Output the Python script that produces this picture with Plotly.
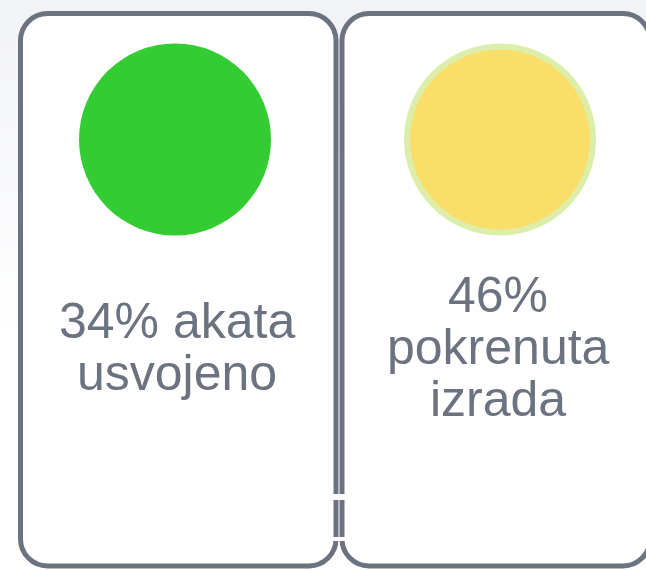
import plotly.graph_objects as go

# ---- data ----
percentages = [34, 46]
label_lines = [["akata", "usvojeno"], ["pokrenuta", "izrada"]]
fill_colors = ["#33CC33", "#F9DF6A"]
ring_colors = ["#33CC33", "#DDEEAA"]

W, H = 646, 570
border_color = "#6B7280"
text_color = "#6B7280"
font_family = "Liberation Sans, Arial, sans-serif"
font_size = 50

fig = go.Figure()

shapes = []

# background gradient (top light gray fading to white)
n = 35
for i in range(n):
    t = i / (n - 1)
    r = int(round(242 + (255 - 242) * t))
    g = int(round(243 + (255 - 243) * t))
    b = int(round(247 + (255 - 247) * t))
    shapes.append(dict(type="rect", xref="x", yref="y", x0=0, x1=W,
                       y0=i * 10, y1=i * 10 + 10, line=dict(width=0),
                       fillcolor=f"rgb({r},{g},{b})", layer="below"))


def rounded_rect(x0, y0, x1, y1, r):
    k = 0.5523 * r
    return (f"M {x0+r},{y0} L {x1-r},{y0} "
            f"C {x1-r+k},{y0} {x1},{y0+r-k} {x1},{y0+r} "
            f"L {x1},{y1-r} "
            f"C {x1},{y1-r+k} {x1-r+k},{y1} {x1-r},{y1} "
            f"L {x0+r},{y1} "
            f"C {x0+r-k},{y1} {x0},{y1-r+k} {x0},{y1-r} "
            f"L {x0},{y0+r} "
            f"C {x0},{y0+r-k} {x0+r-k},{y0} {x0+r},{y0} Z")


boxes = [(20.5, 13.5, 336, 566), (342, 13.5, 650, 566)]
for (x0, y0, x1, y1) in boxes:
    shapes.append(dict(type="path", xref="x", yref="y",
                       path=rounded_rect(x0, y0, x1, y1, 27),
                       fillcolor="white",
                       line=dict(color=border_color, width=5)))

# small white gaps seen between the cards
for (gy0, gy1) in [(494, 500), (537, 541)]:
    shapes.append(dict(type="rect", xref="x", yref="y", x0=331, x1=347,
                       y0=gy0, y1=gy1, line=dict(width=0), fillcolor="white"))

# circles
centers_x = [175, 500]
cy, R = 139.5, 96
ring_w = [0, 6]
for i in range(len(percentages)):
    cx = centers_x[i]
    rw = ring_w[i]
    rr = R - rw / 2
    shapes.append(dict(type="circle", xref="x", yref="y",
                       x0=cx - rr, x1=cx + rr, y0=cy - rr, y1=cy + rr,
                       fillcolor=fill_colors[i],
                       line=dict(color=ring_colors[i], width=rw if rw else 0)))

# text lines
annotations = []
text_cx = [177, 498]
line_gap = 52
mid_baseline = 364
for i, p in enumerate(percentages):
    if i == 0:
        lines = [f"{p}% {label_lines[i][0]}"] + label_lines[i][1:]
    else:
        lines = [f"{p}%"] + label_lines[i]
    nlines = len(lines)
    for j, ln in enumerate(lines):
        baseline = mid_baseline + (j - (nlines - 1) / 2) * line_gap
        annotations.append(dict(x=text_cx[i], y=baseline - 0.3465 * font_size,
                                xref="x", yref="y", text=ln, showarrow=False,
                                xanchor="center", yanchor="middle",
                                font=dict(family=font_family, size=font_size,
                                          color=text_color)))

fig.update_layout(
    width=W, height=H,
    margin=dict(l=0, r=0, t=0, b=0),
    paper_bgcolor="white", plot_bgcolor="white",
    xaxis=dict(range=[0, W], visible=False, fixedrange=True),
    yaxis=dict(range=[H, 0], visible=False, fixedrange=True),
    shapes=shapes, annotations=annotations, showlegend=False,
)

fig.write_html("out.html", config={"displayModeBar": False},
               post_script="document.body.style.margin='0';document.body.style.overflow='hidden';")
